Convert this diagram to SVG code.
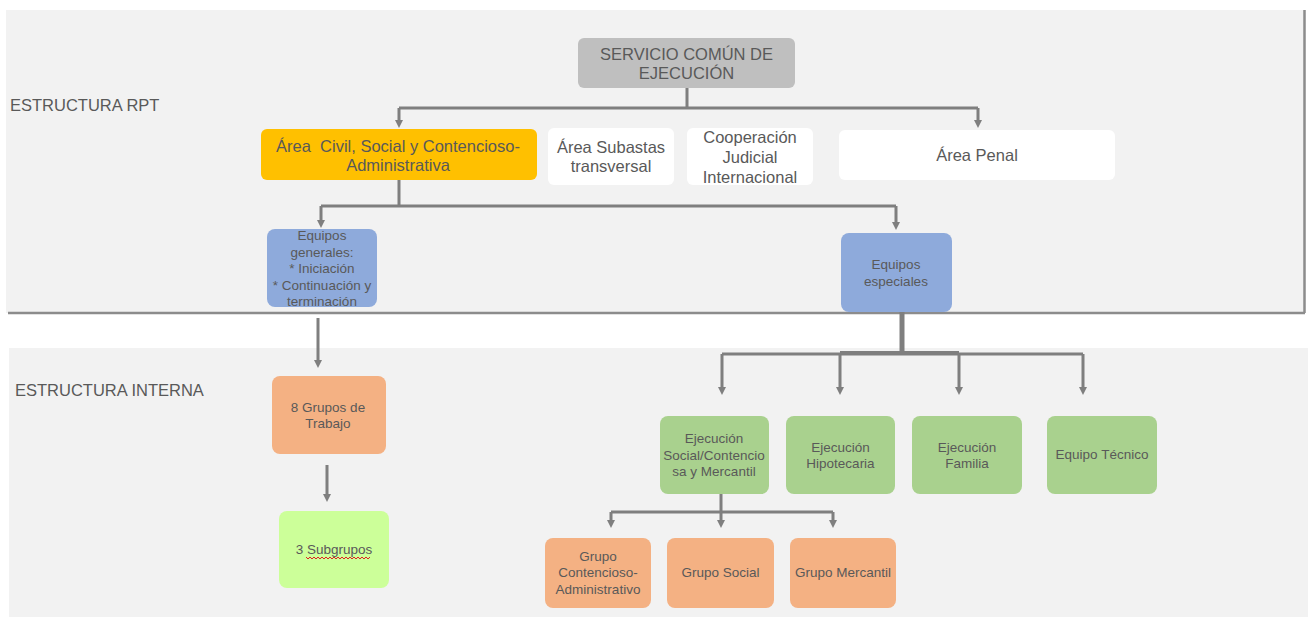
<svg xmlns="http://www.w3.org/2000/svg" width="1308" height="617" viewBox="0 0 1308 617">
<style>
.t{font-family:"Liberation Sans",Arial,sans-serif;fill:#595959;text-anchor:middle}
.L{font-size:16.5px}
.S{font-size:13.5px}
.lab{font-family:"Liberation Sans",Arial,sans-serif;fill:#595959;font-size:16.5px}
.c{fill:none;stroke:#7f7f7f;stroke-width:3}
.ca{fill:none;stroke:#7f7f7f;stroke-width:3;marker-end:url(#ah)}
</style>
<defs>
<marker id="ah" markerUnits="userSpaceOnUse" markerWidth="10" markerHeight="10" refX="0" refY="4" orient="auto">
<path d="M0,0 L8,4 L0,8 z" fill="#7f7f7f"/>
</marker>
</defs>
<rect width="1308" height="617" fill="#ffffff"/>
<g id="panel-rpt">
<rect x="6" y="10" width="1299" height="303" fill="#f2f2f2"/>
<path d="M1304.5,10 V313 M8,313 H1305" fill="none" stroke="#8c8c8c" stroke-width="2.5"/>
<text class="lab" x="10" y="111">ESTRUCTURA RPT</text>
</g>
<g id="panel-interna">
<rect x="9" y="348" width="1299" height="269" fill="#f2f2f2"/>
<text class="lab" x="15" y="396">ESTRUCTURA INTERNA</text>
</g>
<g id="connectors">
<path class="c" d="M687,88 V108"/>
<path class="c" d="M399,108 H978"/>
<path class="ca" d="M399,108 V120"/>
<path class="ca" d="M978,108 V120"/>
<path class="c" d="M399,180 V206"/>
<path class="c" d="M321,206 H896"/>
<path class="ca" d="M321,206 V220"/>
<path class="ca" d="M896,206 V222"/>
<path class="ca" d="M318,318 V360"/>
<path class="ca" d="M327,465 V494"/>
<path d="M902,312 V354" fill="none" stroke="#7f7f7f" stroke-width="5"/>
<path class="c" d="M722,354 H1083"/>
<path d="M840,352 H959" fill="none" stroke="#7f7f7f" stroke-width="2"/>
<path class="ca" d="M722,354 V387"/>
<path class="ca" d="M840,354 V387"/>
<path class="ca" d="M959,354 V387"/>
<path class="ca" d="M1083,354 V387"/>
<path class="c" d="M721,494 V512"/>
<path class="c" d="M611,512 H833"/>
<path class="ca" d="M611,512 V520"/>
<path class="ca" d="M721,512 V520"/>
<path class="ca" d="M833,512 V520"/>
</g>
<g id="servicio">
<rect x="578" y="38" width="217" height="50" rx="6" fill="#bfbfbf"/>
<text class="t L" x="686.5" y="60">SERVICIO COMÚN DE</text>
<text class="t L" x="686.5" y="79">EJECUCIÓN</text>
</g>
<g id="area-civil">
<rect x="261" y="129" width="276" height="51" rx="6" fill="#ffc000"/>
<text class="t L" x="398" y="152" xml:space="preserve" style="white-space:pre">Área  Civil, Social y Contencioso-</text>
<text class="t L" x="398" y="171">Administrativa</text>
</g>
<g id="area-subastas">
<rect x="548" y="128" width="126" height="57" rx="6" fill="#ffffff"/>
<text class="t L" x="611" y="153">Área Subastas</text>
<text class="t L" x="611" y="172">transversal</text>
</g>
<g id="cooperacion">
<rect x="687" y="128" width="126" height="57" rx="6" fill="#ffffff"/>
<text class="t L" x="750" y="143">Cooperación</text>
<text class="t L" x="750" y="163">Judicial</text>
<text class="t L" x="750" y="183">Internacional</text>
</g>
<g id="area-penal">
<rect x="839" y="130" width="276" height="50" rx="6" fill="#ffffff"/>
<text class="t L" x="977" y="161">Área Penal</text>
</g>
<g id="equipos-generales">
<rect x="267" y="229" width="110" height="78" rx="8" fill="#8eaadb"/>
<text class="t S" x="322" y="240">Equipos</text>
<text class="t S" x="322" y="256.5">generales:</text>
<text class="t S" x="322" y="273">* Iniciación</text>
<text class="t S" x="322" y="289.5">* Continuación y</text>
<text class="t S" x="322" y="306">terminación</text>
</g>
<g id="equipos-especiales">
<rect x="841" y="233" width="111" height="79" rx="8" fill="#8eaadb"/>
<text class="t S" x="896" y="269">Equipos</text>
<text class="t S" x="896" y="285.5">especiales</text>
</g>
<g id="grupos-trabajo">
<rect x="272" y="376" width="114" height="78" rx="8" fill="#f4b183"/>
<text class="t S" x="328" y="411.5">8 Grupos de</text>
<text class="t S" x="328" y="428">Trabajo</text>
</g>
<g id="subgrupos">
<rect x="279" y="511" width="110" height="77" rx="8" fill="#ccff99"/>
<text class="t S" x="334" y="554">3 Subgrupos</text>
<path d="M306,557 l2,2 l2,-2 l2,2 l2,-2 l2,2 l2,-2 l2,2 l2,-2 l2,2 l2,-2 l2,2 l2,-2 l2,2 l2,-2 l2,2 l2,-2 l2,2 l2,-2 l2,2 l2,-2 l2,2 l2,-2 l2,2 l2,-2 l2,2 l2,-2 l2,2 l2,-2 l2,2 l2,-2 l2,2 l2,-2" fill="none" stroke="#e02020" stroke-width="1"/>
</g>
<g id="ejec-social">
<rect x="660" y="416" width="109" height="78" rx="8" fill="#a9d18e"/>
<text class="t S" x="714" y="443">Ejecución</text>
<text class="t S" x="714" y="460">Social/Contencio</text>
<text class="t S" x="714" y="476">sa y Mercantil</text>
</g>
<g id="ejec-hipotecaria">
<rect x="786" y="416" width="109" height="78" rx="8" fill="#a9d18e"/>
<text class="t S" x="840.5" y="451.5">Ejecución</text>
<text class="t S" x="840.5" y="468">Hipotecaria</text>
</g>
<g id="ejec-familia">
<rect x="912" y="416" width="110" height="78" rx="8" fill="#a9d18e"/>
<text class="t S" x="967" y="451.5">Ejecución</text>
<text class="t S" x="967" y="468">Familia</text>
</g>
<g id="equipo-tecnico">
<rect x="1047" y="416" width="110" height="78" rx="8" fill="#a9d18e"/>
<text class="t S" x="1102" y="459">Equipo Técnico</text>
</g>
<g id="grupo-contencioso">
<rect x="545" y="538" width="106" height="70" rx="8" fill="#f4b183"/>
<text class="t S" x="598" y="560.5">Grupo</text>
<text class="t S" x="598" y="577">Contencioso-</text>
<text class="t S" x="598" y="594">Administrativo</text>
</g>
<g id="grupo-social">
<rect x="667" y="538" width="107" height="70" rx="8" fill="#f4b183"/>
<text class="t S" x="720.5" y="577">Grupo Social</text>
</g>
<g id="grupo-mercantil">
<rect x="790" y="538" width="106" height="70" rx="8" fill="#f4b183"/>
<text class="t S" x="843" y="577">Grupo Mercantil</text>
</g>
</svg>
